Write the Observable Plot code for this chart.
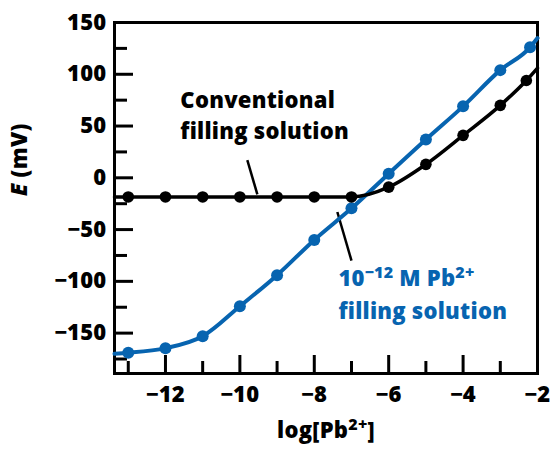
<!DOCTYPE html>
<html><head><meta charset="utf-8">
<script src="https://cdn.jsdelivr.net/npm/d3@7"></script>
<script src="https://cdn.jsdelivr.net/npm/@observablehq/plot@0.6"></script>
<style>
body{margin:0;background:#fff;}
svg text{font-family:"Open Sans",sans-serif;font-weight:800;letter-spacing:0.25px;}
</style></head><body><div id="chart"></div>
<script>
// Data
const conventionalX = [-13,-12,-11,-10,-9,-8,-7,-6,-5,-4,-3,-2.3];
const conventionalE = [-18.5,-18.5,-18.5,-18.5,-18.5,-18.5,-18.5,-9,13,41,70,94];
const leadX = [-13,-12,-11,-10,-9,-8,-7,-6,-5,-4,-3,-2.2];
const leadE = [-169,-164.5,-153,-124,-94,-60,-29.5,4,37,69,104,126];
// where the fitted curves meet the frame edges
const edgeX = [-13.37,-2];
const conventionalEdgeE = [-18.5,106];
const leadEdgeE = [-170,135];

const xMajorTicks = [-12,-10,-8,-6,-4,-2];
const xMinorTicks = [-13,-11,-9,-7,-5,-3];
const yMajorTicks = [-150,-100,-50,0,50,100,150];
const yMinorTicks = [-175,-125,-75,-25,25,75,125];

const blue = "#0764b0";
const conventionalLabel = ["Conventional","filling solution"];
const leadLabel = ["LEADLINE1","filling solution"];
// annotation anchor points (data units)
const convLabelX = -11.6, convLabelY = [74,44];
const leadLabelX = -7.35, leadLabelY = [-97.5,-129.5];
const leaders = [
  {x1:-9.80,y1:17,x2:-9.53,y2:-16},
  {x1:-7.38,y1:-33,x2:-7.0,y2:-80}
];

const convLine = [[edgeX[0],conventionalEdgeE[0]], ...conventionalX.map((x,i)=>[x,conventionalE[i]]), [edgeX[1],conventionalEdgeE[1]]];
const leadLine = [[edgeX[0],leadEdgeE[0]], ...leadX.map((x,i)=>[x,leadE[i]]), [edgeX[1],leadEdgeE[1]]];
const convPts = conventionalX.map((x,i)=>({x, y:conventionalE[i]}));
const leadPts = leadX.map((x,i)=>({x, y:leadE[i]}));

const FS = 22;
const plot = Plot.plot({
  width:550, height:455,
  marginLeft:114, marginRight:13, marginTop:22, marginBottom:82,
  style:{fontFamily:"'Open Sans',sans-serif", fontSize:FS+"px", background:"white", color:"black"},
  x:{domain:[-13.37,-2], label:null},
  y:{domain:[-189,150], label:null},
  marks:[
    Plot.axisX(xMajorTicks,{tickSize:-18, strokeWidth:3, tickFormat:()=>"", label:null}),
    Plot.axisX(xMinorTicks,{tickSize:-12, strokeWidth:3, tickFormat:()=>"", label:null}),
    Plot.axisX(xMajorTicks,{tickSize:0, tickPadding:13, fontSize:FS, fontWeight:800, label:null}),
    Plot.axisY(yMajorTicks,{tickSize:-19, strokeWidth:3, tickFormat:()=>"", label:null}),
    Plot.axisY(yMinorTicks,{tickSize:-13, strokeWidth:3, tickFormat:()=>"", label:null}),
    Plot.axisY(yMajorTicks,{tickSize:0, tickPadding:8, fontSize:FS, fontWeight:800, label:null}),
    Plot.frame({stroke:"black", strokeWidth:3}),
    Plot.link(leaders,{x1:"x1",y1:"y1",x2:"x2",y2:"y2",stroke:"black",strokeWidth:2.5}),
    Plot.line(leadLine,{x:d=>d[0],y:d=>d[1],curve:"monotone-x",stroke:blue,strokeWidth:4}),
    Plot.dot(leadPts,{x:"x",y:"y",r:6,fill:blue}),
    Plot.line(convLine,{x:d=>d[0],y:d=>d[1],curve:"monotone-x",stroke:"black",strokeWidth:3.5}),
    Plot.dot(convPts,{x:"x",y:"y",r:5.8,fill:"black"}),
    Plot.text(conventionalLabel,{x:()=>convLabelX,y:(d,i)=>convLabelY[i],text:d=>d,textAnchor:"start",fontSize:FS,fontWeight:800,fill:"black"}),
    Plot.text(leadLabel,{x:()=>leadLabelX,y:(d,i)=>leadLabelY[i],text:d=>d,textAnchor:"start",fontSize:FS,fontWeight:800,fill:blue}),
    Plot.text(["XLABEL"],{frameAnchor:"bottom",dy:64,fontSize:FS,fontWeight:800,fill:"black"}),
    Plot.text(["YLABEL"],{frameAnchor:"left",dx:-95,dy:-2,rotate:-90,fontSize:FS,fontWeight:800,fill:"black"})
  ]
});
document.getElementById("chart").appendChild(plot);
const repl = {
  "LEADLINE1":'10<tspan dy="-8" font-size="16">−12</tspan><tspan dy="8"> M Pb</tspan><tspan dy="-8" font-size="16">2+</tspan>',
  "XLABEL":'log[Pb<tspan dy="-8" font-size="16">2+</tspan><tspan dy="8">]</tspan>',
  "YLABEL":'<tspan font-style="italic">E</tspan> (mV)'
};
plot.querySelectorAll("text").forEach(t=>{ const k=t.textContent; if(repl[k]) t.innerHTML=repl[k]; });
</script></body></html>
